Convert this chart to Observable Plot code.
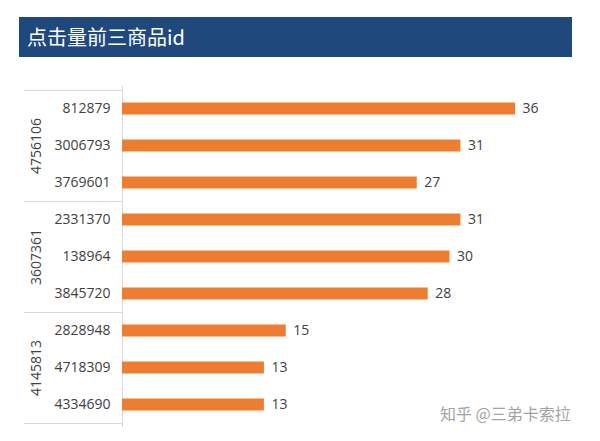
<!DOCTYPE html>
<html>
<head>
<meta charset="utf-8">
<script src="https://cdn.jsdelivr.net/npm/d3@7"></script>
<script src="https://cdn.jsdelivr.net/npm/@observablehq/plot@0.6"></script>
<style>
  html, body { margin: 0; padding: 0; background: #fff; }
  #wrap { position: relative; width: 600px; height: 441px; overflow: hidden; font-family: "Open Sans", "Noto Sans CJK SC", sans-serif; }
  #header { position: relative; height: 60px; }
  #title { position: absolute; left: 19px; top: 17px; width: 553px; height: 40px; background: #1f497d;
           color: #fff; font-family: "Noto Sans CJK SC", sans-serif; font-size: 20px; line-height: 40px;
           padding-left: 8px; box-sizing: border-box; }
  #chart svg { display: block; }
  #mark { position: absolute; left: 440px; top: 402px; color: #a3a3a3; font-family: "Noto Sans CJK SC", sans-serif;
          font-size: 16px; line-height: 23px; white-space: pre; }
</style>
</head>
<body>
<div id="wrap">
  <div id="header"><div id="title">点击量前三商品id</div></div>
  <div id="chart"></div>
  <div id="mark">知乎 @三弟卡索拉</div>
</div>
<script>
const groups = ["4756106", "3607361", "4145813"];
const items = ["812879", "3006793", "3769601", "2331370", "138964", "3845720", "2828948", "4718309", "4334690"];
const itemGroup = [0, 0, 0, 1, 1, 1, 2, 2, 2];
const values = [36, 31, 27, 31, 30, 28, 15, 13, 13];

const data = items.map((id, i) => ({id, group: groups[itemGroup[i]], value: values[i]}));
const groupMiddle = groups.map((g, gi) => ({g, mid: items.filter((_, i) => itemGroup[i] === gi)[1]}));
const groupFirst = groups.map((g, gi) => items.find((_, i) => itemGroup[i] === gi));

const textColor = "#404040";
const chart = Plot.plot({
  width: 600,
  height: 381,
  marginTop: 26,
  marginBottom: 14,
  marginLeft: 122,
  marginRight: 85,
  style: {fontFamily: "'Open Sans', sans-serif", fontSize: "14px", color: textColor, background: "transparent"},
  x: {domain: [0, 36], axis: null},
  y: {domain: items, padding: 0, tickSize: 0, tickPadding: 12, label: null},
  marks: [
    Plot.ruleX([0], {stroke: "#d9d9d9"}),
    Plot.barX(data, {x: "value", y: "id", fill: "#ed7d31", insetTop: 12.5, insetBottom: 12.5}),
    Plot.text(data, {x: "value", y: "id", text: d => String(d.value), textAnchor: "start", dx: 7, fill: textColor}),
    Plot.text(groupMiddle, {y: "mid", text: "g", frameAnchor: "left", textAnchor: "middle", dx: -86, rotate: -90, fill: textColor})
  ]
});
document.getElementById("chart").appendChild(chart);

// frame lines of the category box, placed through the chart's own scales
const ys = chart.scale("y");
const xs = chart.scale("x");
const x0 = xs.apply(0);
const bounds = groupFirst.map(id => ys.apply(id)).concat([ys.apply(items[items.length - 1]) + ys.bandwidth]);
d3.select(chart).append("g")
  .attr("stroke", "#d9d9d9")
  .selectAll("line").data(bounds).join("line")
  .attr("x1", x0 - 98).attr("x2", x0)
  .attr("y1", d => Math.round(d) + 0.5).attr("y2", d => Math.round(d) + 0.5);
</script>
</body>
</html>
